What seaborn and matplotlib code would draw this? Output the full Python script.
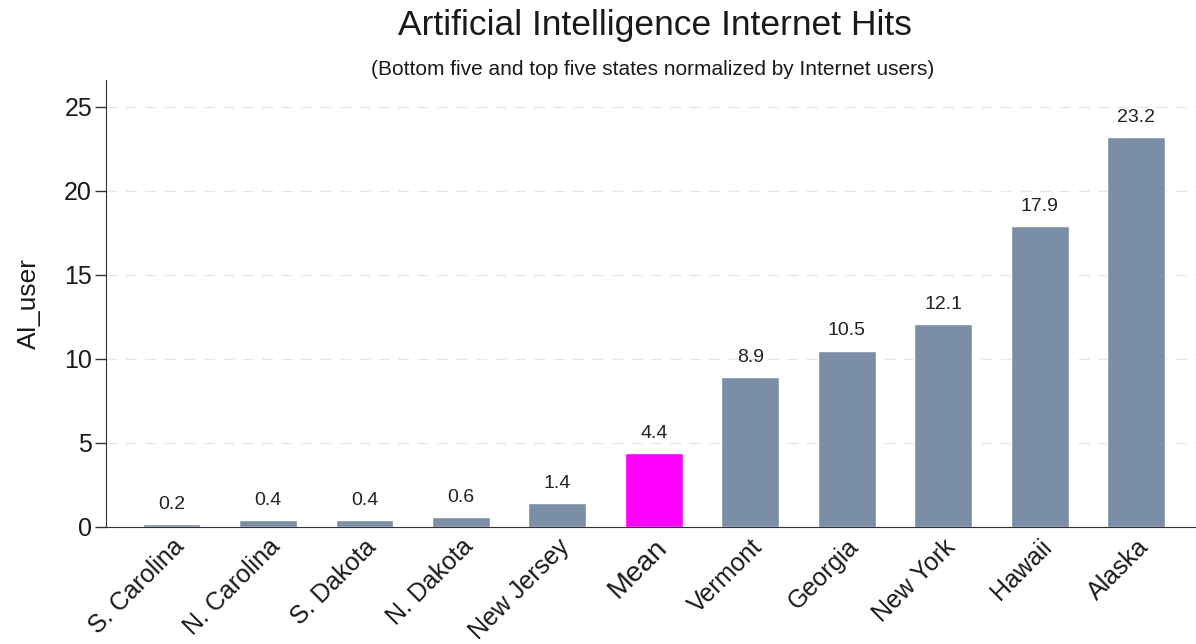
import numpy as np
import pandas as pd
import seaborn as sns
import matplotlib.pyplot as plt

#Chart data
states = ['S. Carolina', 'N. Carolina', 'S. Dakota', 'N. Dakota', 'New Jersey', 'Mean',
          'Vermont', 'Georgia', 'New York', 'Hawaii', 'Alaska']
ai_user = [0.2, 0.4, 0.4, 0.6, 1.4, 4.4, 8.9, 10.5, 12.1, 17.9, 23.2]
y_ticks = [0, 5, 10, 15, 20, 25]

bar_color = '#7a8fa6'
mean_color = '#ff00ff'
colors = [mean_color if s == 'Mean' else bar_color for s in states]
text_color = '#1a1a1a'

sns.set_style('white')
plt.rcParams['font.family'] = ['Liberation Sans', 'DejaVu Sans']
plt.rcParams['text.color'] = text_color
plt.rcParams['axes.labelcolor'] = text_color
plt.rcParams['xtick.color'] = text_color
plt.rcParams['ytick.color'] = text_color

fig = plt.figure(figsize=(11.96, 6.44), dpi=100)
ax = fig.add_axes([0.0886, 0.1817, 0.9114, 0.6941])

df = pd.DataFrame({'state': states, 'AI_user': ai_user})
sns.barplot(data=df, x='state', y='AI_user', hue='state', palette=colors,
            width=0.6, legend=False, saturation=1, ax=ax)

#Value labels above bars
for cont in ax.containers:
    ax.bar_label(cont, fmt='%.1f', padding=8, fontsize=14, color='#222222')

ax.set_ylim(0, 26.6)
ax.set_xlim(-0.68, 10.62)
ax.set_yticks(y_ticks)
ax.yaxis.grid(True, linestyle=(0, (8, 6)), color='#e6e6e6', linewidth=1)
ax.set_axisbelow(True)
for gl in ax.get_ygridlines()[:1]:
    gl.set_visible(False)

sns.despine(ax=ax, top=True, right=True)
ax.spines['left'].set_color('#333333')
ax.spines['bottom'].set_color('#333333')
ax.tick_params(axis='y', left=True, length=8, width=1, color='#333333', labelsize=18, pad=2)
ax.tick_params(axis='x', bottom=False, pad=2)

ax.set_xlabel('')
ax.set_ylabel('AI_user', fontsize=19, labelpad=17)

ax.set_xticks(range(len(states)))
ax.set_xticklabels(states, rotation=45, ha='right', rotation_mode='anchor')
for lab in ax.get_xticklabels():
    lab.set_fontsize(20.5 if lab.get_text() == 'Mean' else 18)

fig.text(0.548, 0.960, 'Artificial Intelligence Internet Hits', ha='center', va='center', fontsize=25.5)
fig.text(0.546, 0.892, '(Bottom five and top five states normalized by Internet users)',
         ha='center', va='center', fontsize=15)

plt.savefig('out.png', dpi=100)
plt.close()
